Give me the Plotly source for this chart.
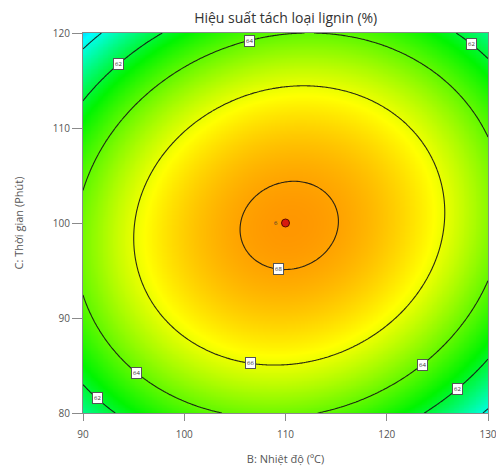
import numpy as np
import plotly.graph_objects as go

# Response surface for lignin removal (coded units: x = (B-110)/20, y = (C-100)/20)
coef_names = ["b0", "bB", "bC", "bBC", "bBB", "bCC"]
coef_values = [68.22, 0.15, -0.12, 0.74, -3.80, -4.15]

b_range = [90, 130]
c_range = [80, 120]
b_ticks = [90, 100, 110, 120, 130]
c_ticks = [80, 90, 100, 110, 120]
contour_levels = [60, 62, 64, 66, 68]

# Design point (center, 6 replicates)
design_b = [110]
design_c = [100]
design_reps = ["6"]

# Contour labels: (level, B position, branch)
label_levels = [62, 64, 62, 66, 64, 62, 64, 62, 68]
label_b = [93.5, 106.4, 128.4, 106.5, 95.3, 91.4, 123.5, 127.0, 109.3]
label_branch = ["up", "up", "up", "down", "down", "down", "down", "down", "down"]

cf = dict(zip(coef_names, coef_values))


def response(B, C):
    x = (B - 110) / 20.0
    y = (C - 100) / 20.0
    return (cf["b0"] + cf["bB"] * x + cf["bC"] * y + cf["bBC"] * x * y
            + cf["bBB"] * x ** 2 + cf["bCC"] * y ** 2)


def contour_c(level, B, branch):
    x = (B - 110) / 20.0
    a = cf["bCC"]
    b = cf["bC"] + cf["bBC"] * x
    c = cf["b0"] + cf["bB"] * x + cf["bBB"] * x ** 2 - level
    disc = np.sqrt(b * b - 4 * a * c)
    roots = sorted([(-b + disc) / (2 * a), (-b - disc) / (2 * a)])
    y = roots[1] if branch == "up" else roots[0]
    return 100 + 20 * y


bs = np.linspace(b_range[0], b_range[1], 241)
cs = np.linspace(c_range[0], c_range[1], 241)
BB, CC = np.meshgrid(bs, cs)
Z = response(BB, CC)

# Colour ramp: blue -> cyan -> green -> yellow -> red
zmin, zmax = 56.6, 71.0
stops = [(56.6, "rgb(0,0,255)"), (59.6, "rgb(0,255,255)"), (62.6, "rgb(0,245,0)"),
         (66.3, "rgb(255,255,0)"), (71.0, "rgb(255,0,0)")]
colorscale = [[(v - zmin) / (zmax - zmin), col] for v, col in stops]

fig = go.Figure()
fig.add_trace(go.Heatmap(x=bs, y=cs, z=Z, zmin=zmin, zmax=zmax, zsmooth="best",
                         colorscale=colorscale, showscale=False, hoverinfo="skip"))
fig.add_trace(go.Contour(x=bs, y=cs, z=Z, showscale=False,
                         contours=dict(start=contour_levels[0], end=contour_levels[-1],
                                       size=contour_levels[1] - contour_levels[0],
                                       coloring="none", showlabels=False),
                         line=dict(color="rgba(20,20,20,0.9)", width=1.1),
                         hoverinfo="skip"))
fig.add_trace(go.Scatter(x=design_b, y=design_c, mode="markers",
                         marker=dict(size=8, color="#d81a0f",
                                     line=dict(color="#5a0a00", width=1)),
                         hoverinfo="skip"))

for lv, bpos, br in zip(label_levels, label_b, label_branch):
    fig.add_annotation(x=bpos, y=contour_c(lv, bpos, br), text=str(lv),
                       showarrow=False, font=dict(size=6, color="#333", family="Open Sans"),
                       bgcolor="white", bordercolor="#555", borderwidth=1, borderpad=1)

for bpos, cpos, t in zip(design_b, design_c, design_reps):
    fig.add_annotation(x=bpos, y=cpos, text=t, showarrow=False, xshift=-10,
                       font=dict(size=6, color="#333", family="Open Sans"))

axis_common = dict(showgrid=False, zeroline=False, showline=True, linecolor="#8a8a8a",
                   linewidth=1, mirror=True, ticks="outside", tickcolor="#8a8a8a",
                   automargin=False, ticklabeloverflow="allow",
                   tickfont=dict(size=10, color="#555", family="Open Sans"))

fig.update_layout(
    width=496, height=466,
    margin=dict(l=83, r=8, t=33, b=53),
    paper_bgcolor="white", plot_bgcolor="white",
    showlegend=False,
    title=dict(text="Hiệu suất tách loại lignin (%)", x=0.576, xanchor="center",
               y=0.962, yanchor="middle",
               font=dict(size=14, color="#333", family="Open Sans")),
    xaxis=dict(range=b_range, tickvals=b_ticks, ticklen=7, ticklabelstandoff=5,
               title=dict(text="B: Nhiệt độ (ºC)", standoff=15,
                          font=dict(size=11, color="#555", family="Open Sans")),
               **axis_common),
    yaxis=dict(range=c_range, tickvals=c_ticks, ticklen=10,
               title=dict(text="C: Thời gian (Phút)", standoff=26,
                          font=dict(size=11, color="#555", family="Open Sans")),
               **axis_common),
)

fig.write_html("out.html")
